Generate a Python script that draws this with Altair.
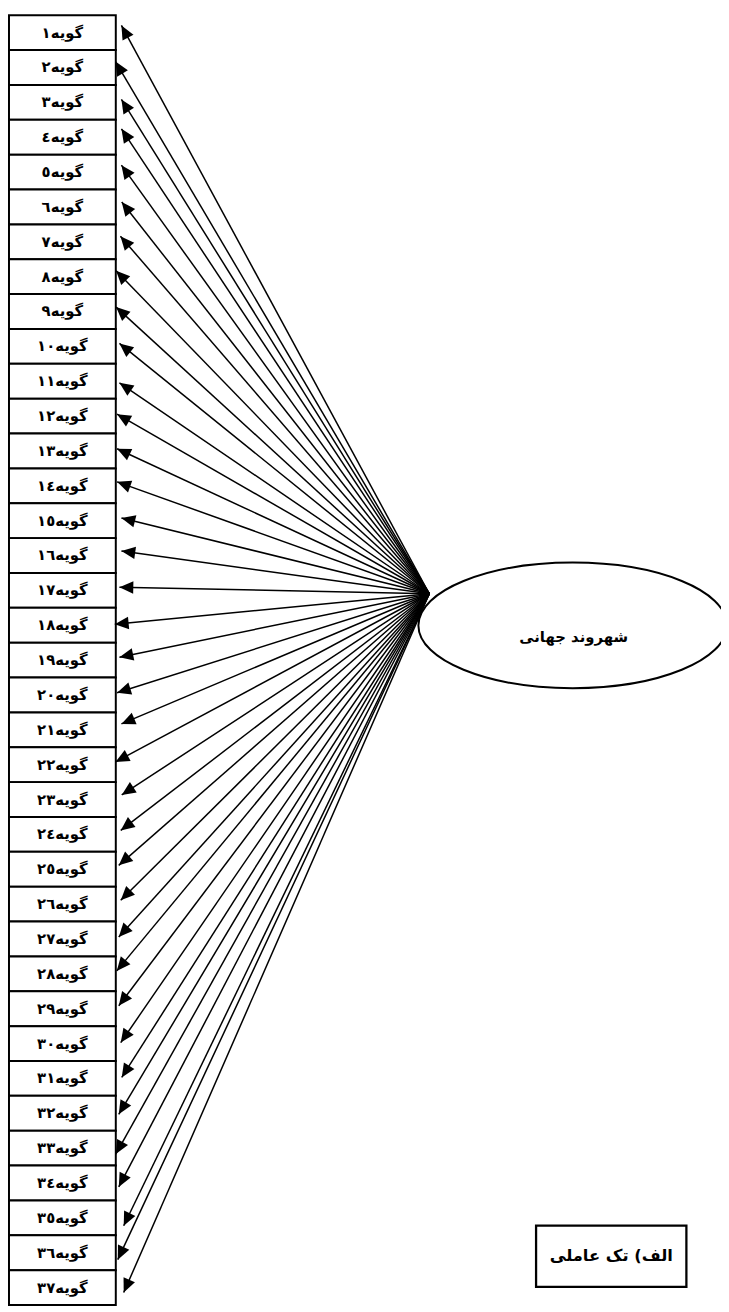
import math
import altair as alt
import pandas as pd

# ---------------- data ----------------
AR_DIGITS = "٠١٢٣٤٥٦٧٨٩"
item_numbers = list(range(1, 38))
item_labels = ["گویه" + "".join(AR_DIGITS[int(c)] for c in str(n)) for n in item_numbers]

# page-x of each arrow tip
tip_x = [122.7, 116.7, 122.7, 122.7, 122.7, 123, 121.7, 117.3, 117.3, 120.7,
         120.7, 118.3, 118.3, 118.3, 122.7, 122.7, 120.7, 116, 120.7, 118.3,
         122.7, 116.7, 123, 122, 120, 122, 120, 118, 120, 122,
         123, 120, 117, 120, 125, 119, 125]
# vertical offset of each arrow tip from its box centre (px)
tip_dy = [-7.3, -6, -3, -8.5, -7, -5, -5.6, -6, -4.5, -3,
          1.6, -2, -2.2, -4, -2.7, -4.6, -3.2, -1, -3, -2.3,
          -6, -2.8, -4.7, -4, -4, -4, -2, -3, -3, -1,
          -1, 1, 6, 4, 8, 7, 5]

factor_label = "شهروند جهانی"
caption_label = "الف) تک عاملی"

# ---------------- layout ----------------
W, H = 713, 1304
OFF = 8
PITCH = 35.25
BOX_X0, BOX_X1 = 1, 109
HUB = (434 - OFF, 593 - OFF)
ELL_C = (579 - OFF, 625 - OFF)
ELL_RX, ELL_RATIO = 156, 0.407
CAP_BOX = (542 - OFF, 694 - OFF, 1232 - OFF, 1294 - OFF)

xs = alt.Scale(domain=[0, W], nice=False, zero=False)
ys = alt.Scale(domain=[0, H], nice=False, zero=False, reverse=True)


def X(f):
    return alt.X(f, type="quantitative", scale=xs, axis=None)


def Y(f):
    return alt.Y(f, type="quantitative", scale=ys, axis=None)


rows = []
for i, (lab, tx, tdy) in enumerate(zip(item_labels, tip_x, tip_dy), start=1):
    cx = tx - OFF
    cy = PITCH * (i - 0.5) + tdy
    dx, dy = cx - HUB[0], cy - HUB[1]
    ang = math.degrees(math.atan2(dx, -dy)) % 360
    rows.append(dict(label=lab, y0=PITCH * (i - 1), y1=PITCH * i, ym=PITCH * (i - 0.5),
                     x0=BOX_X0, x1=BOX_X1, xm=(BOX_X0 + BOX_X1) / 2,
                     tx=cx, ty=cy, hx=HUB[0], hy=HUB[1], angle=ang))
df = pd.DataFrame(rows)

boxes = alt.Chart(df).mark_rect(fill="white", stroke="black", strokeWidth=2).encode(
    x=X("x0"), x2="x1", y=Y("y0"), y2="y1")

labels = alt.Chart(df).mark_text(font="DejaVu Sans", fontSize=15, fontWeight="bold",
                                 color="black", align="center", baseline="middle").encode(
    x=X("xm"), y=Y("ym"), text="label:N")

lines = alt.Chart(df).mark_rule(color="black", strokeWidth=1.5).encode(
    x=X("hx"), y=Y("hy"), x2="tx", y2="ty")

heads = alt.Chart(df).mark_point(shape="M0,0L-0.45,1L0.45,1Z", filled=True, color="black",
                                 opacity=1, size=784, strokeWidth=0).encode(
    x=X("tx"), y=Y("ty"), angle=alt.Angle("angle:Q", scale=None))

ell_df = pd.DataFrame([dict(x=ELL_C[0], y=ELL_C[1], tx=580 - OFF, ty=637 - OFF, label=factor_label)])
ell_path = "M-1,0A1,{r},0,0,1,1,0A1,{r},0,0,1,-1,0Z".format(r=ELL_RATIO)
ellipse = alt.Chart(ell_df).mark_point(shape=ell_path, filled=True, fill="white", stroke="black",
                                       strokeWidth=2, opacity=1, size=(2 * ELL_RX) ** 2).encode(
    x=X("x"), y=Y("y"))
ell_text = alt.Chart(ell_df).mark_text(font="DejaVu Sans", fontSize=15, fontWeight="bold",
                                       color="black", align="center", baseline="middle").encode(
    x=X("tx"), y=Y("ty"), text="label:N")

cap_df = pd.DataFrame([dict(x0=CAP_BOX[0], x1=CAP_BOX[1], y0=CAP_BOX[2], y1=CAP_BOX[3],
                            tx=(CAP_BOX[0] + CAP_BOX[1]) / 2, ty=(CAP_BOX[2] + CAP_BOX[3]) / 2,
                            label=caption_label)])
cap_box = alt.Chart(cap_df).mark_rect(fill="white", stroke="black", strokeWidth=2.3).encode(
    x=X("x0"), x2="x1", y=Y("y0"), y2="y1")
cap_text = alt.Chart(cap_df).mark_text(font="DejaVu Sans", fontSize=16.5, fontWeight="bold",
                                       color="black", align="center", baseline="middle").encode(
    x=X("tx"), y=Y("ty"), text="label:N")

chart = alt.layer(boxes, lines, heads, labels, ellipse, ell_text, cap_box, cap_text).properties(
    width=W, height=H,
    padding={"left": 0, "top": 0, "right": 8, "bottom": 0},
    autosize=alt.AutoSizeParams(type="none"),
    background="white",
).configure_view(stroke=None)

chart.save("out.html", embed_options={"renderer": "svg", "actions": False})
